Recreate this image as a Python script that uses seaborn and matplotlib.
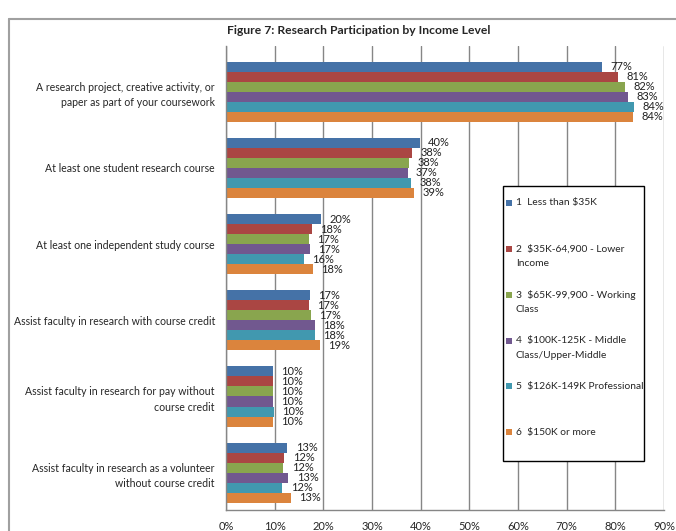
import numpy as np
import pandas as pd
import matplotlib
matplotlib.use('Agg')
import matplotlib.pyplot as plt
from matplotlib.lines import Line2D
from matplotlib.patches import Rectangle
import seaborn as sns

activities = [
    'A research project, creative activity, or\npaper as part of your coursework',
    'At least one student research course',
    'At least one independent study course',
    'Assist faculty in research with course credit',
    'Assist faculty in research for pay without\ncourse credit',
    'Assist faculty in research as a volunteer\nwithout course credit',
]
income_levels = [
    '1  Less than $35K',
    '2  $35K-64,900 - Lower\nIncome',
    '3  $65K-99,900 - Working\nClass',
    '4  $100K-125K - Middle\nClass/Upper-Middle',
    '5  $126K-149K Professional',
    '6  $150K or more',
]
# percent of students, one list per income level (same order as activities)
less_35k = [77.2, 39.8, 19.6, 17.2, 9.7, 12.6]
k35_65 = [80.6, 38.2, 17.7, 17.0, 9.6, 12.0]
k65_100 = [82.0, 37.6, 17.0, 17.4, 9.6, 11.8]
k100_125 = [82.6, 37.3, 17.2, 18.2, 9.6, 12.8]
k126_149 = [83.8, 38.0, 16.0, 18.2, 9.9, 11.6]
k150_plus = [83.6, 38.6, 17.9, 19.3, 9.6, 13.3]
xticks = [0, 10, 20, 30, 40, 50, 60, 70, 80, 90]

colors = ['#4572A7', '#AA4643', '#89A54E', '#71588F', '#4198AF', '#DB843D']

series = [less_35k, k35_65, k65_100, k100_125, k126_149, k150_plus]
rows = []
for lvl, vals in zip(income_levels, series):
    for act, v in zip(activities, vals):
        rows.append({'Activity': act, 'Income': lvl, 'Percent': v})
df = pd.DataFrame(rows)

sns.set_style('white')
plt.rcParams['font.family'] = ['Lato', 'DejaVu Sans']
plt.rcParams['text.parse_math'] = False

W, H = 676, 531
fig = plt.figure(figsize=(W / 100, H / 100), dpi=100)
ax = fig.add_axes([226 / W, 1 - 510 / H, (664 - 226) / W, (510 - 46) / H])

sns.barplot(data=df, y='Activity', x='Percent', hue='Income', orient='h',
            palette=colors, width=0.79, saturation=1, legend=False,
            order=activities, hue_order=income_levels, ax=ax, edgecolor='none')

for cont in ax.containers:
    vals = [b.get_width() for b in cont]
    ax.bar_label(cont, labels=['%d%%' % round(v) for v in vals], padding=6,
                 fontsize=8, color='#222222')

ax.set_xlim(0, 90)
ax.set_ylim(5.49, -0.6)
ax.set_xticks(xticks)
ax.set_xticklabels(['%d%%' % t for t in xticks], fontsize=8)
ax.set_xlabel('')
ax.set_ylabel('')
ax.tick_params(axis='y', length=0, pad=8, labelsize=7.6)
ax.tick_params(axis='x', length=4, color='#868686', pad=4)
for lbl in ax.get_yticklabels():
    lbl.set_horizontalalignment('right')
    lbl.set_multialignment('right')
    lbl.set_linespacing(1.5)
ax.xaxis.grid(True, color='#868686', lw=1)
ax.set_axisbelow(True)
for s in ['top', 'right']:
    ax.spines[s].set_visible(False)
for s in ['left', 'bottom']:
    ax.spines[s].set_color('#868686')
    ax.spines[s].set_linewidth(1)

# title
fig.text(359 / W, 1 - 30 / H, 'Figure 7: Research Participation by Income Level',
         ha='center', va='center', fontsize=8.7, fontweight='bold')

# outer chart frame
fig.add_artist(Line2D([9 / W, 9 / W], [0, 1 - 19 / H], color='#A0A0A0', lw=1.5))
fig.add_artist(Line2D([9 / W, 1], [1 - 19 / H, 1 - 19 / H], color='#A0A0A0', lw=1.5))

# legend box
fig.add_artist(Rectangle((503 / W, 1 - 461 / H), (644 - 503) / W, (461 - 186) / H,
                         facecolor='white', edgecolor='black', lw=1, zorder=5))
entry_y = [203, 249, 295, 341, 386, 432]
for lvl, col, y in zip(income_levels, colors, entry_y):
    fig.add_artist(Rectangle((506 / W, 1 - (y + 3) / H), 6 / W, 6 / H,
                             facecolor=col, edgecolor='none', zorder=6))
    for i, line in enumerate(lvl.split('\n')):
        fig.text(516 / W, 1 - (y + i * 14) / H, line, ha='left', va='center',
                 fontsize=7.4, zorder=7)

fig.savefig('out.png', dpi=100)
